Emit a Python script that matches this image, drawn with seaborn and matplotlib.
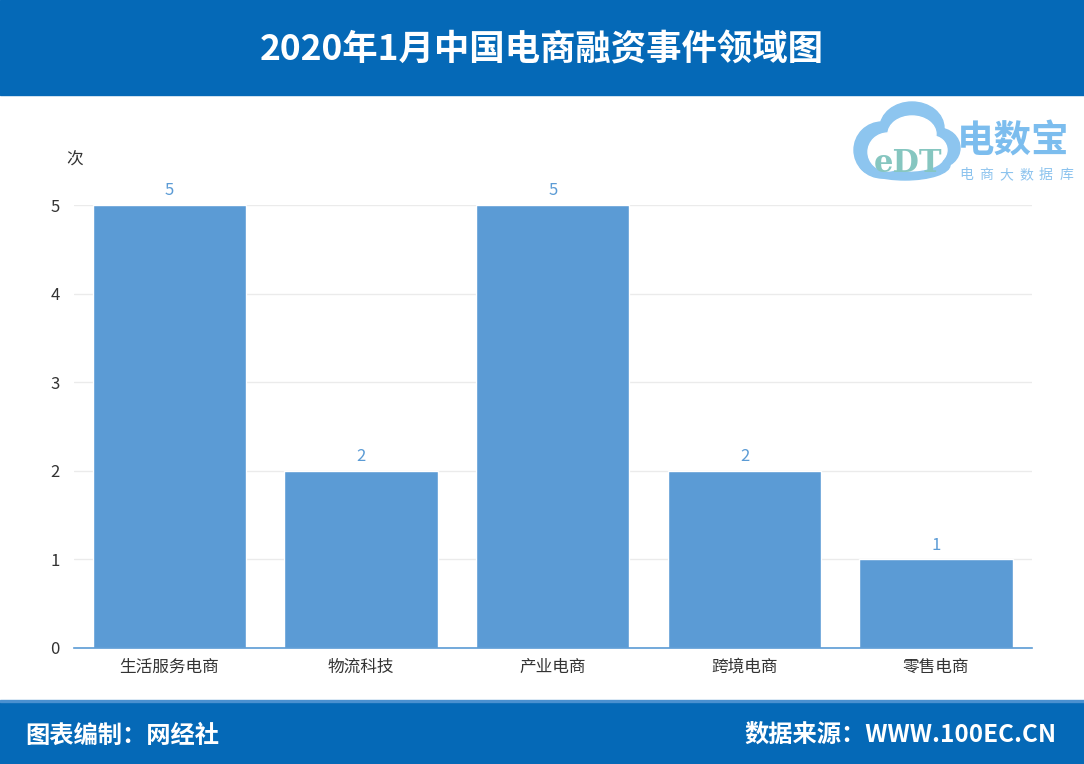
import matplotlib
matplotlib.use("Agg")
import matplotlib.pyplot as plt
from matplotlib.patches import Rectangle, Ellipse
import seaborn as sns
import pandas as pd

categories = ["生活服务电商", "物流科技", "产业电商", "跨境电商", "零售电商"]
values = [5, 2, 5, 2, 1]
y_ticks = [0, 1, 2, 3, 4, 5]

title = "2020年1月中国电商融资事件领域图"
footer_left = "图表编制：网经社"
footer_right = "数据来源：WWW.100EC.CN"
unit_label = "次"

sns.set_theme(style="white")
plt.rcParams['font.family'] = ['Noto Sans CJK SC', 'DejaVu Sans']

BAR = "#5B9BD5"
HEAD = "#0569B7"

fig = plt.figure(figsize=(10.84, 7.64), dpi=100)
W, H = 1084, 764

def fy(py):
    return 1 - py / H

# header and footer bands
fig.patches.append(Rectangle((0, fy(95)), 1, 95 / H, transform=fig.transFigure, color=HEAD, zorder=0))
fig.patches.append(Rectangle((0, 0), 1, 62 / H, transform=fig.transFigure, color=HEAD, zorder=0))
fig.patches.append(Rectangle((0, 62 / H), 1, 2 / H, transform=fig.transFigure, color="#4A90D0", zorder=0))

fig.text(0.5, fy(50), title, ha="center", va="center", color="white",
         fontsize=25.5, fontweight="bold")
fig.text(25 / W, fy(736), footer_left, ha="left", va="center", color="white",
         fontsize=17.5, fontweight="bold")
fig.text(1057 / W, fy(736), footer_right, ha="right", va="center", color="white",
         fontsize=17.5, fontweight="bold")

# axes
left, right = 73.6 / W, 1032 / W
bottom, top = fy(648), fy(205)
ax = fig.add_axes([left, bottom, right - left, top - bottom])

df = pd.DataFrame({"cat": categories, "val": values})
sns.barplot(data=df, x="cat", y="val", color=BAR, saturation=1, width=0.8, ax=ax, zorder=3)

ax.set_ylim(0, 5)
ax.set_xlim(-0.5, len(categories) - 0.5)
ax.set_yticks(y_ticks)
ax.set_xlabel("")
ax.set_ylabel("")
ax.yaxis.grid(True, color="#EBEBEB", linewidth=1, zorder=0)
ax.set_axisbelow(True)
for s in ["top", "right", "left"]:
    ax.spines[s].set_visible(False)
ax.spines["bottom"].set_color(BAR)
ax.spines["bottom"].set_linewidth(1.2)
ax.spines["bottom"].set_zorder(4)
ax.tick_params(axis="both", length=0, labelsize=12, labelcolor="#333333")
ax.tick_params(axis="x", pad=8)
ax.tick_params(axis="y", pad=10)

for i, v in enumerate(values):
    ax.annotate(str(v), (i, v), xytext=(0, 4), textcoords="offset points",
                ha="center", va="bottom", color=BAR, fontsize=12, annotation_clip=False)

fig.text(75 / W, fy(160), unit_label, ha="center", va="center", color="#333333", fontsize=12)

# logo (decorative)
cloud = "#8DC5EF"
for (cx, cy, w, h) in [(882, 150, 56, 56), (912, 128, 64, 52), (938, 148, 44, 40), (905, 165, 90, 30)]:
    fig.patches.append(Ellipse((cx / W, fy(cy)), w / W, h / H, transform=fig.transFigure,
                               color=cloud, zorder=1))
for (cx, cy, w, h) in [(888, 152, 40, 38), (912, 134, 48, 36), (932, 150, 30, 28), (908, 158, 70, 26)]:
    fig.patches.append(Ellipse((cx / W, fy(cy)), w / W, h / H, transform=fig.transFigure,
                               color="white", zorder=1))
fig.text(908 / W, fy(163), "eDT", ha="center", va="center", color="#86C6C0",
         fontsize=22, fontweight="bold", zorder=2, family=["DejaVu Serif"])
fig.text(957 / W, fy(141), "电数宝", ha="left", va="center", color="#7CBDEE",
         fontsize=27, fontweight="bold", zorder=2)
for k, ch in enumerate("电商大数据库"):
    fig.text((966 + k * 20) / W, fy(175), ch, ha="center", va="center", color="#8CC3EE",
             fontsize=10, zorder=2)

fig.savefig("out.png", dpi=100)
